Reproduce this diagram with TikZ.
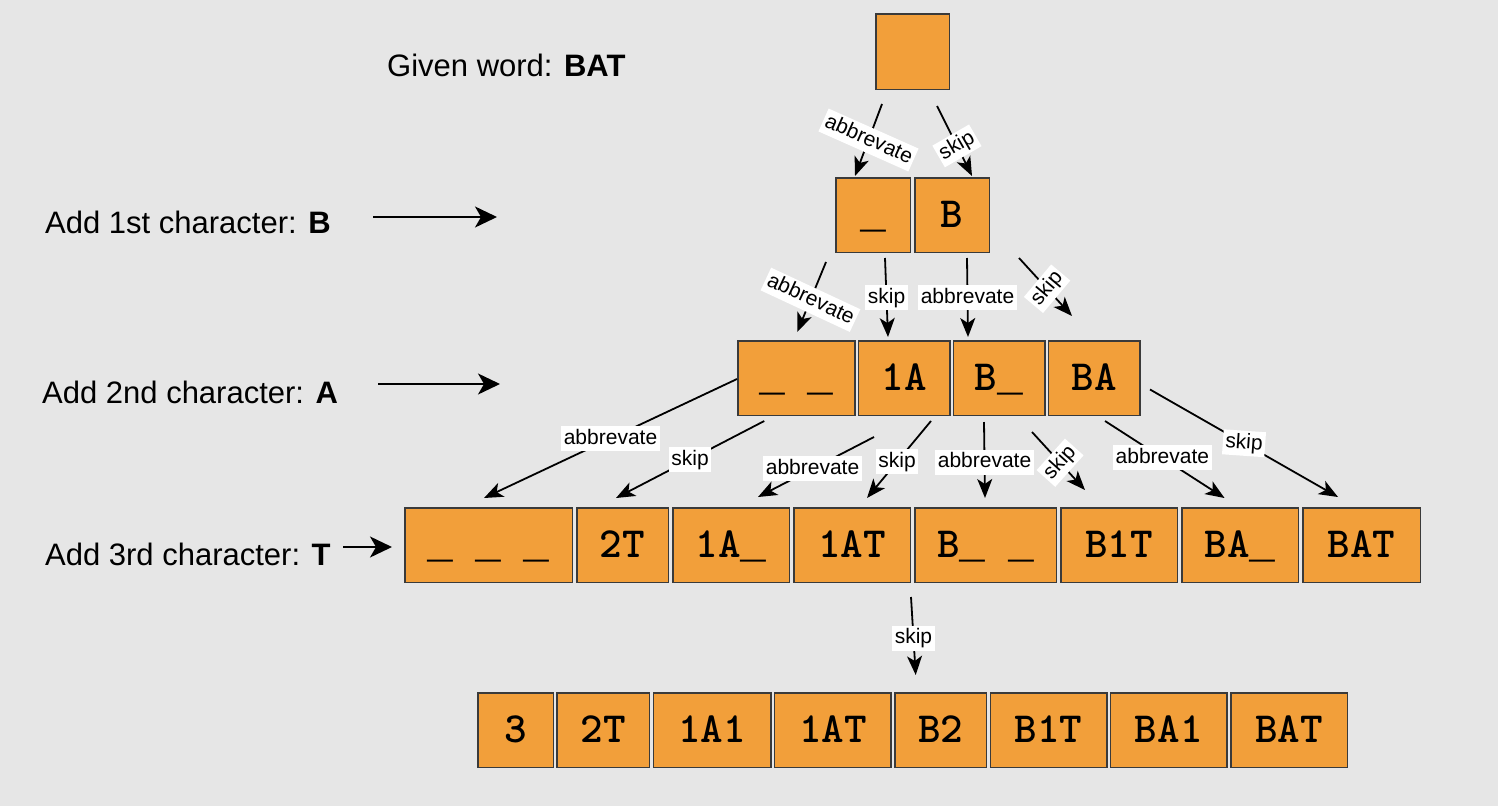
\documentclass[tikz,border=0pt]{standalone}
\usepackage{fontspec}
\setmainfont{Liberation Sans}
\newfontfamily\underfont{Liberation Mono}
\newcommand\emptyslot{{\underfont\bfseries\_}}
\usepackage{tikz}
\usetikzlibrary{matrix}
\usetikzlibrary{shapes,arrows.meta,positioning}

\definecolor{paper}{HTML}{E6E6E6}
\definecolor{boxfill}{HTML}{F29F3A}
\definecolor{boxline}{HTML}{3A3A3A}

\tikzset{
  letterbox/.style={draw=boxline, fill=boxfill, line width=1.5pt,
    inner sep=0pt, outer sep=0.75pt,
    minimum width=74.5pt, minimum height=74.5pt,
    text height=28pt, text depth=3pt,
    font=\fontsize{43}{43}\selectfont\ttfamily\bfseries},
  move/.style={line width=1.8pt, -{Stealth[length=19pt,width=15pt,inset=5pt]}},
  movelabel/.style={fill=white, inner sep=2.5pt,
    text height=15.5pt, text depth=4.5pt,
    font=\fontsize{21}{21}\selectfont},
  stagetext/.style={anchor=base west, inner sep=0pt,
    font=\fontsize{31}{31}\selectfont},
  stagearrow/.style={line width=1.8pt, -{Stealth[length=22pt,width=21pt,inset=6pt]}}
}

\begin{document}
\begin{tikzpicture}[x=1pt,y=-1pt]
  \fill[paper] (0,0) rectangle (1498,806);
  \useasboundingbox (0,0) rectangle (1498,806);

  % stages on the left
  \node[stagetext] (given) at (387,76.5) {Given word: \textbf{BAT}};
  \node[stagetext] (add1) at (45,233.5) {Add 1st character: \textbf{B}};
  \node[stagetext] (add2) at (42,403) {Add 2nd character: \textbf{A}};
  \node[stagetext] (add3) at (45,565) {Add 3rd character: \textbf{T}};

  \coordinate (a1from) at (373,217);
  \coordinate (a1to) at (497,217);
  \coordinate (a2from) at (378,384);
  \coordinate (a2to) at (500,384);
  \coordinate (a3from) at (343,547);
  \coordinate (a3to) at (392,547);
  \draw[stagearrow] (a1from) -- (a1to);
  \draw[stagearrow] (a2from) -- (a2to);
  \draw[stagearrow] (a3from) -- (a3to);

  % the tree of abbreviations
  \node[letterbox, minimum width=73.5pt, minimum height=75.5pt,
    anchor=north west] (root) at (875,13) {};

  \matrix (l1) [matrix of nodes, nodes={letterbox}, column sep=3pt,
    anchor=north west, inner sep=0pt, outer sep=0pt] at (835,177) {
    \emptyslot & B \\
  };

  \matrix (l2) [matrix of nodes, nodes={letterbox, minimum width=91.5pt},
    column sep=2pt, anchor=north west, inner sep=0pt, outer sep=0pt]
    at (737,340) {
    |[minimum width=117pt]| \emptyslot\ \emptyslot & 1A & B\emptyslot & BA \\
  };

  \matrix (l3) [matrix of nodes, nodes={letterbox, minimum width=116.5pt},
    column sep=3pt, anchor=north west, inner sep=0pt, outer sep=0pt]
    at (404,507) {
    |[minimum width=167.5pt]| \emptyslot\ \emptyslot\ \emptyslot
      & |[minimum width=91.5pt]| 2T & 1A\emptyslot & 1AT
      & |[minimum width=141.5pt]| B\emptyslot\ \emptyslot & B1T & BA\emptyslot
      & |[minimum width=117.5pt]| BAT \\
  };

  \matrix (l4) [matrix of nodes, nodes={letterbox, minimum width=116.5pt},
    column sep=2.3pt, anchor=north west, inner sep=0pt, outer sep=0pt]
    at (477,692) {
    |[minimum width=75.5pt]| 3 & |[minimum width=92.5pt]| 2T
      & |[minimum width=117.5pt]| 1A1 & 1AT & |[minimum width=91.5pt]| B2
      & B1T & BA1 & BAT \\
  };

  % first character
  \draw[move] ([xshift=-30.5pt,yshift=-14pt]root.south) --
    node[movelabel, rotate=-24] {abbrevate} ([xshift=-18pt,yshift=1pt]l1-1-1.north);
  \draw[move] ([xshift=24.5pt,yshift=-16pt]root.south) --
    node[movelabel, rotate=30, pos=.57] {skip} ([xshift=20pt,yshift=1pt]l1-1-2.north);

  % second character
  \draw[move] ([xshift=-47pt,yshift=-9pt]l1-1-1.south) --
    node[movelabel, rotate=-25, pos=.54] {abbrevate} ([xshift=1pt,yshift=8pt]l2-1-1.north);
  \draw[move] ([xshift=12pt,yshift=-5pt]l1-1-1.south) --
    node[movelabel] {skip} ([xshift=-16pt,yshift=3pt]l2-1-2.north);
  \draw[move] ([xshift=15pt,yshift=-5pt]l1-1-2.south) --
    node[movelabel] {abbrevate} ([xshift=-31pt,yshift=3pt]l2-1-3.north);
  \draw[move] ([xshift=67pt,yshift=-5pt]l1-1-2.south) --
    node[movelabel, rotate=50, pos=.53] {skip} ([xshift=-22pt,yshift=24pt]l2-1-4.north);

  % third character
  \draw[move] ([yshift=-1pt]l2-1-1.west) --
    node[movelabel] {abbrevate} ([xshift=-4.5pt,yshift=9pt]l3-1-1.north);
  \draw[move] ([xshift=-32pt,yshift=-5pt]l2-1-1.south) --
    node[movelabel] {skip} ([xshift=-6.5pt,yshift=9pt]l3-1-2.north);
  \draw[move] ([xshift=-30pt,yshift=-21pt]l2-1-2.south) --
    node[movelabel, pos=.53] {abbrevate} ([xshift=27pt,yshift=10pt]l3-1-3.north);
  \draw[move] ([xshift=27pt,yshift=-5pt]l2-1-2.south) --
    node[movelabel, pos=.53] {skip} ([xshift=15pt,yshift=9pt]l3-1-4.north);
  \draw[move] ([xshift=-15pt,yshift=-6pt]l2-1-3.south) --
    node[movelabel, pos=.53] {abbrevate} ([xshift=-0.5pt,yshift=9pt]l3-1-5.north);
  \draw[move] ([xshift=33pt,yshift=-16pt]l2-1-3.south) --
    node[movelabel, rotate=48, pos=.53] {skip} ([xshift=-34pt,yshift=17pt]l3-1-6.north);
  \draw[move] ([xshift=11pt,yshift=-5pt]l2-1-4.south) --
    node[movelabel, pos=.48] {abbrevate} ([xshift=-15.5pt,yshift=9pt]l3-1-7.north);
  \draw[move] ([xshift=9.5pt,yshift=-11.5pt]l2-1-4.east) --
    node[movelabel, rotate=-4] {skip} ([xshift=-23.5pt,yshift=10pt]l3-1-8.north);

  % last step
  \draw[move] ([yshift=-14pt]l3-1-4.south east) --
    node[movelabel, pos=.53] {skip} ([xshift=-25pt,yshift=17pt]l4-1-5.north);
\end{tikzpicture}
\end{document}
